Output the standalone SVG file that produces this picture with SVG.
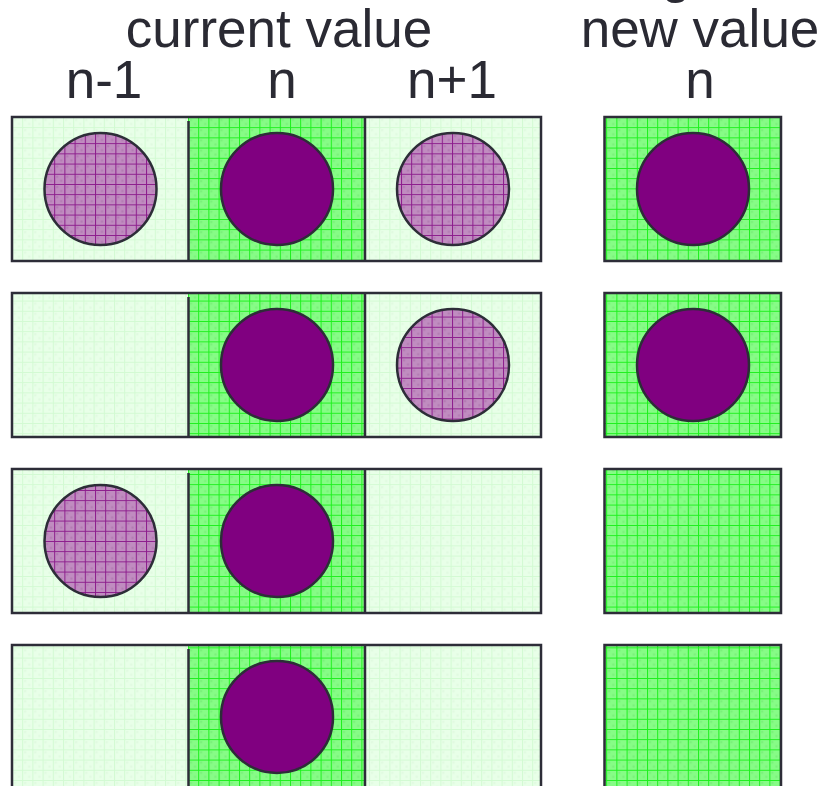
<svg xmlns="http://www.w3.org/2000/svg" width="823" height="786" viewBox="0 0 823 786">
<style>
.t{font-family:"Liberation Sans",Arial,sans-serif;font-size:53px;fill:#2a2a33;text-anchor:middle}
.frame{fill:none;stroke:#2d2d38;stroke-width:2.5}
.div{stroke:#2d2d38;stroke-width:2.5}
.light{fill:url(#pLight)}
.green{fill:url(#pGreen)}
.solid{fill:#800080;stroke:#2d2d38;stroke-width:2.5}
.hatch{fill:url(#pHatch);stroke:#2d2d38;stroke-width:2.5}
</style>
<defs>
<pattern id="pLight" patternUnits="userSpaceOnUse" x="12" y="117" width="10.2" height="10.2">
<rect width="10.2" height="10.2" fill="#e8ffe8"/>
<rect x="2" y="2" width="2" height="2" fill="#e0fae0"/>
<rect x="6" y="6" width="2" height="2" fill="#e0fae0"/>
<path d="M0 0.5H10.2M0.5 0V10.2" stroke="#d2fad2" stroke-width="1"/>
</pattern>
<pattern id="pGreen" patternUnits="userSpaceOnUse" x="188" y="117" width="10.2" height="10.2">
<rect width="10.2" height="10.2" fill="#86fc86"/>
<rect x="2" y="2" width="2" height="2" fill="#7af07a"/>
<rect x="6" y="6" width="2" height="2" fill="#7af07a"/>
<path d="M0 0.5H10.2M0.5 0V10.2" stroke="#1cf01c" stroke-width="1"/>
</pattern>
<pattern id="pHatch" patternUnits="userSpaceOnUse" x="44" y="133" width="10.2" height="10.2">
<rect width="10.2" height="10.2" fill="#c08cc0"/>
<rect x="2" y="2" width="2" height="2" fill="#b27ab2"/>
<rect x="6" y="6" width="2" height="2" fill="#b27ab2"/>
<path d="M0 0.5H10.2M0.5 0V10.2" stroke="#8c1c8c" stroke-width="1"/>
</pattern>
</defs>

<g id="headers">
<text class="t" x="676" y="-8.5">g</text>
<text class="t" x="279" y="47">current value</text>
<text class="t" x="700" y="47">new value</text>
<text class="t" x="104" y="98">n-1</text>
<text class="t" x="282" y="98">n</text>
<text class="t" x="452" y="98">n+1</text>
<text class="t" x="700" y="98">n</text>
</g>

<g id="row1">
<rect class="light" x="12" y="117" width="529" height="144"/>
<rect class="green" x="188" y="117" width="177" height="144"/>
<rect class="frame" x="12" y="117" width="529" height="144"/>
<line class="div" x1="188.5" y1="121" x2="188.5" y2="261"/>
<line class="div" x1="365" y1="117" x2="365" y2="261"/>
<circle class="hatch" cx="100.5" cy="189" r="56"/>
<circle class="solid" cx="277" cy="189" r="56"/>
<circle class="hatch" cx="453" cy="189" r="56"/>
</g>
<g id="new1">
<rect class="frame" x="604.5" y="117" width="176.5" height="144" style="fill:url(#pGreen)"/>
<circle class="solid" cx="693" cy="189" r="56"/>
</g>

<g id="row2">
<rect class="light" x="12" y="293" width="529" height="144"/>
<rect class="green" x="188" y="293" width="177" height="144"/>
<rect class="frame" x="12" y="293" width="529" height="144"/>
<line class="div" x1="188.5" y1="297" x2="188.5" y2="437"/>
<line class="div" x1="365" y1="293" x2="365" y2="437"/>
<circle class="solid" cx="277" cy="365" r="56"/>
<circle class="hatch" cx="453" cy="365" r="56"/>
</g>
<g id="new2">
<rect class="frame" x="604.5" y="293" width="176.5" height="144" style="fill:url(#pGreen)"/>
<circle class="solid" cx="693" cy="365" r="56"/>
</g>

<g id="row3">
<rect class="light" x="12" y="469" width="529" height="144"/>
<rect class="green" x="188" y="469" width="177" height="144"/>
<rect class="frame" x="12" y="469" width="529" height="144"/>
<line class="div" x1="188.5" y1="473" x2="188.5" y2="613"/>
<line class="div" x1="365" y1="469" x2="365" y2="613"/>
<circle class="hatch" cx="100.5" cy="541" r="56"/>
<circle class="solid" cx="277" cy="541" r="56"/>
</g>
<g id="new3">
<rect class="frame" x="604.5" y="469" width="176.5" height="144" style="fill:url(#pGreen)"/>
</g>

<g id="row4">
<rect class="light" x="12" y="645" width="529" height="144"/>
<rect class="green" x="188" y="645" width="177" height="144"/>
<rect class="frame" x="12" y="645" width="529" height="144"/>
<line class="div" x1="188.5" y1="649" x2="188.5" y2="789"/>
<line class="div" x1="365" y1="645" x2="365" y2="789"/>
<circle class="solid" cx="277" cy="717" r="56"/>
</g>
<g id="new4">
<rect class="frame" x="604.5" y="645" width="176.5" height="144" style="fill:url(#pGreen)"/>
</g>
</svg>
